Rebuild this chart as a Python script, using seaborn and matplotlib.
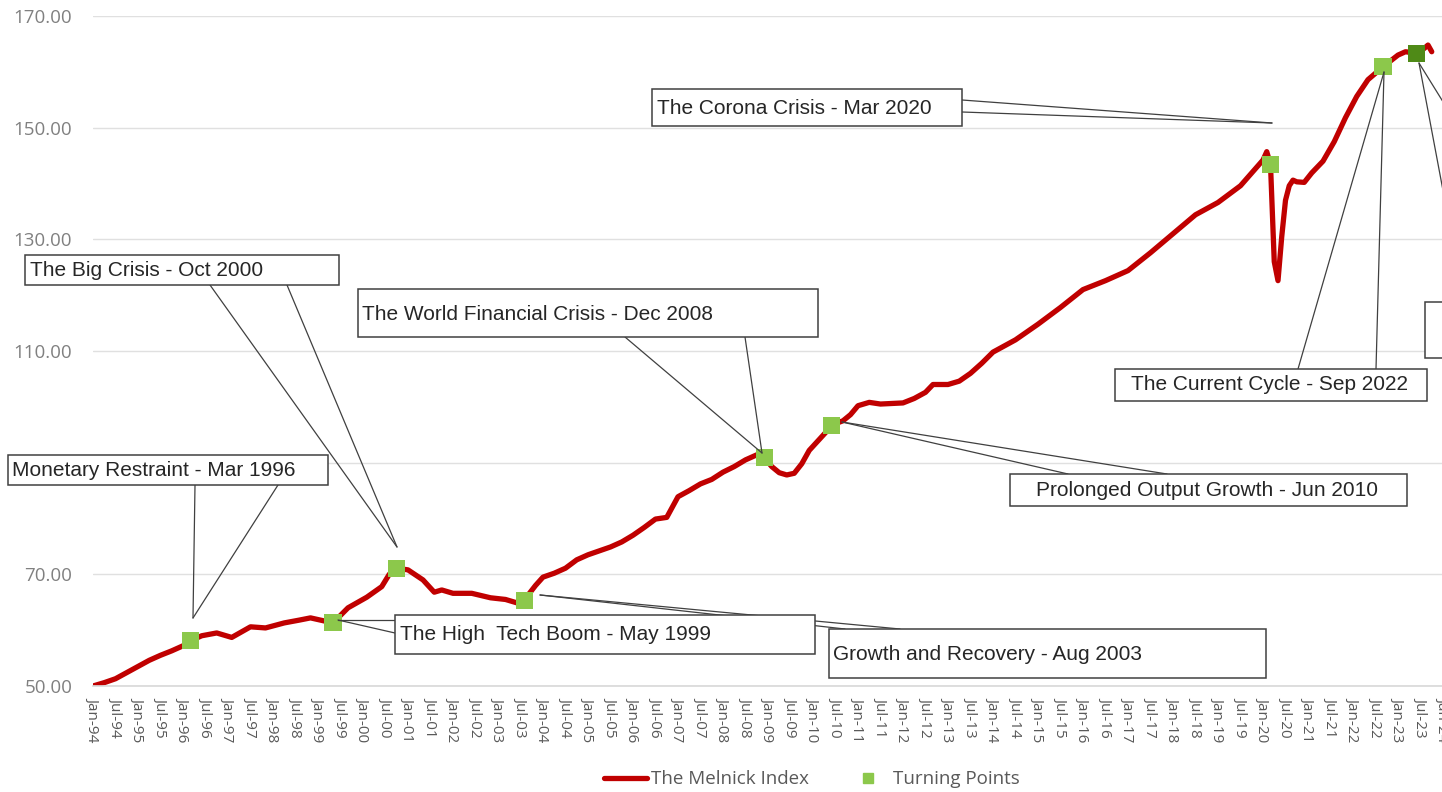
import numpy as np
import pandas as pd
import seaborn as sns
import matplotlib.pyplot as plt
from matplotlib.patches import Rectangle
from matplotlib.lines import Line2D
from matplotlib.transforms import Affine2D

# month index: 0 = Jan-94
months = [0, 3, 6, 9, 12, 15, 18, 21, 24, 26, 29, 33, 37, 42, 46, 51, 55, 58, 62, 64,
          68, 73, 77, 79, 81, 84, 88, 91, 93, 96, 101, 106, 110, 113, 115,
          118, 120, 123, 126, 129, 132, 135, 138, 141, 144, 147, 150, 153, 156, 159,
          162, 165, 168, 171, 174, 177, 179, 181, 183, 185, 187, 189, 191, 194, 197,
          198, 200, 202, 204, 207, 210, 216, 219, 222, 224, 228, 231, 234, 237, 240,
          246, 252, 258, 264, 270, 276, 282, 288, 294, 300, 306, 312, 313, 314, 315,
          316, 317, 318, 319, 320, 321, 323, 325, 328, 331, 334, 337, 340, 344, 348,
          350, 352, 353, 355, 356, 357]
index_values = [50.0, 50.6, 51.3, 52.4, 53.5, 54.6, 55.5, 56.3, 57.2, 58.1, 59.0, 59.5, 58.7, 60.6, 60.4, 61.3, 61.8, 62.2, 61.6, 61.3,
                64.0, 65.9, 67.8, 70.0, 71.1, 70.8, 69.0, 66.8, 67.2, 66.6, 66.6, 65.8, 65.5, 64.9, 65.4,
                68.0, 69.5, 70.2, 71.1, 72.6, 73.5, 74.2, 74.9, 75.8, 77.0, 78.4, 79.9, 80.2, 83.9, 85.0,
                86.2, 87.0, 88.3, 89.3, 90.5, 91.4, 90.9, 89.3, 88.2, 87.8, 88.1, 89.8, 92.2, 94.4, 96.6,
                97.0, 97.5, 98.6, 100.2, 100.8, 100.5, 100.7, 101.5, 102.6, 104.0, 104.0, 104.6, 106.0, 107.8, 109.8,
                112.0, 114.8, 117.8, 121.0, 122.6, 124.4, 127.6, 131.0, 134.4, 136.6, 139.6, 144.2, 145.7, 143.4, 126.0,
                122.6, 130.5, 137.0, 139.6, 140.6, 140.3, 140.2, 141.9, 144.0, 147.5, 151.8, 155.6, 158.6, 160.9, 163.0,
                163.6, 163.4, 163.2, 164.2, 164.8, 163.6]

tp_months = [26, 64, 81, 115, 179, 197, 314, 344, 353]
tp_values = [58.1, 61.3, 71.1, 65.4, 90.9, 96.6, 143.4, 160.9, 163.2]
tp_kind = ["past"] * 8 + ["latest"]

years = list(range(1994, 2025))
tick_pos = []
tick_labels = []
for i, yr in enumerate(years):
    for half, mon in enumerate(["Jan", "Jul"]):
        if yr == 2024 and mon == "Jul":
            continue
        tick_pos.append(i * 12 + half * 6)
        tick_labels.append(f"{mon}-{yr % 100:02d}")

y_ticks = [50, 70, 90, 110, 130, 150, 170]

# callouts: text, box (x0, y0, x1, y1), text x, text y, wedge base points, tip  (reference pixels)
callouts = [
    ("Monetary Restraint - Mar 1996", (8, 455, 328, 485), 12, 470, [(195, 485), (278, 485)], (193, 618)),
    ("The Big Crisis - Oct 2000", (25, 255, 339, 285), 30, 270, [(210, 285), (287, 285)], (397, 547)),
    ("The World Financial Crisis - Dec 2008", (358, 289, 818, 337), 362, 314, [(625, 337), (745, 337)], (762, 453)),
    ("The High  Tech Boom - May 1999", (395, 615, 815, 654), 400, 635, [(395, 620), (395, 633)], (338, 620)),
    ("Growth and Recovery - Aug 2003", (829, 629, 1266, 678), 833, 654, [(845, 629), (900, 629)], (540, 595)),
    ("Prolonged Output Growth - Jun 2010", (1010, 474, 1407, 506), 1036, 490, [(1068, 474), (1167, 474)], (842, 422)),
    ("The Corona Crisis - Mar 2020", (652, 89, 962, 126), 657, 108, [(962, 100), (962, 112)], (1272, 123)),
    ("The Current Cycle - Sep 2022", (1115, 369, 1427, 401), 1131, 385, [(1298, 369), (1376, 369)], (1384, 72)),
    ("", (1425, 302, 1600, 358), 1430, 330, [(1464, 302), (1567, 302)], (1419, 63)),
]

sns.set_theme(style="white")
plt.rcParams['font.family'] = ['Open Sans', 'DejaVu Sans']

W, H = 1442, 792
fig = plt.figure(figsize=(W / 100, H / 100), dpi=100)
ax = fig.add_axes([93 / W, 1 - 686 / H, 362 * 3.75 / W, 670 / H])

df = pd.DataFrame({"month": months, "value": index_values})
tp = pd.DataFrame({"month": tp_months, "value": tp_values, "kind": tp_kind})

sns.lineplot(data=df, x="month", y="value", ax=ax, color="#C00000", lw=3.8, zorder=2)
sns.scatterplot(data=tp, x="month", y="value", hue="kind", ax=ax, marker="s", s=150,
                palette={"past": "#8CC84B", "latest": "#4F8A17"}, edgecolor="none",
                legend=False, zorder=3)

ax.set_xticks(tick_pos)
ax.set_xticklabels(tick_labels, rotation=270, fontsize=11, color="#595959")
ax.set_yticks(y_ticks)
ax.set_yticklabels([f"{v:.2f}" for v in y_ticks], fontsize=13.5, color="#808080")
ax.set_xlim(0, 362)
ax.set_ylim(50, 170)
ax.tick_params(axis="y", length=0, pad=15)
ax.tick_params(axis="x", length=0, pad=8)
ax.set_xlabel("")
ax.set_ylabel("")
ax.yaxis.grid(True, color="#E0E0E0", lw=1)
ax.xaxis.grid(False)
ax.set_axisbelow(True)
for side in ["top", "left", "right"]:
    ax.spines[side].set_visible(False)
ax.spines["bottom"].set_color("#D9D9D9")

# reference pixel coords -> display coords
T = Affine2D().scale(1, -1).translate(0, H)
for text, (x0, y0, x1, y1), tx, ty, bases, tip in callouts:
    for bx, by in bases:
        ax.add_line(Line2D([bx, tip[0]], [by, tip[1]], transform=T, color="#404040",
                           lw=0.9, clip_on=False, zorder=4))
    ax.add_patch(Rectangle((x0, y0), x1 - x0, y1 - y0, transform=T, facecolor="white",
                           edgecolor="#404040", lw=1.1, clip_on=False, zorder=5))
    ax.text(tx, ty, text, transform=T, ha="left", va="center", fontsize=15,
            family=["Liberation Sans", "DejaVu Sans"], color="#262626", zorder=6, clip_on=False)

handles = [Line2D([], [], color="#C00000", lw=3.8),
           Line2D([], [], color="#8CC84B", marker="s", ls="none", markersize=7)]
fig.legend(handles, ["The Melnick Index", "Turning Points"], loc="center",
           bbox_to_anchor=(0.563, 0.016), ncol=2, frameon=False, fontsize=13.5,
           labelcolor="#595959", handlelength=2.3, handletextpad=0.2, columnspacing=2.0)

fig.savefig("out.png", dpi=100)
